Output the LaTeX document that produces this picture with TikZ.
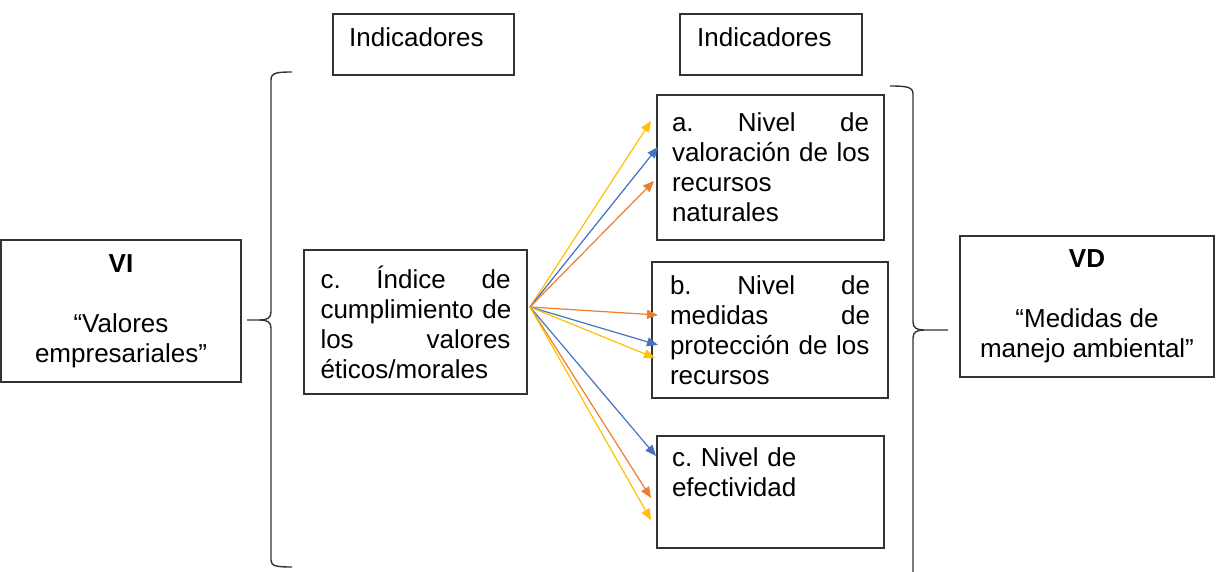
\documentclass[tikz,border=0pt]{standalone}
\usepackage{fontspec}
\setmainfont{Liberation Sans}
\usetikzlibrary{arrows.meta}
\definecolor{oyel}{HTML}{FFC000}
\definecolor{oblue}{HTML}{4472C4}
\definecolor{oorange}{HTML}{ED7D31}
\frenchspacing
\begin{document}
\begin{tikzpicture}[x=1pt,y=-1pt,
  box/.style={draw=black!80, line width=1.3pt, inner sep=0pt, font=\fontsize{26}{30}\selectfont},
  txt/.style={inner sep=0pt, font=\fontsize{26}{30}\selectfont},
  arr/.style={line width=1.2pt, -{Triangle[length=11pt,width=9pt]}},
  brace/.style={line width=1.4pt, draw=black!80}]
\useasboundingbox (0,0) rectangle (1216,572);
% Indicadores boxes
\node[box, minimum width=181, minimum height=61] (ib1) at (423.5,44.5) {};
\node[txt, anchor=west] (it1) at (349,37) {Indicadores};
\node[box, minimum width=182, minimum height=61] (ib2) at (771,44.5) {};
\node[txt, anchor=west] (it2) at (697,37) {Indicadores};
% VI
\node[box, minimum width=240, minimum height=142, align=center] (vi) at (121,311)
  {\textbf{VI}\\[30pt]“Valores\\empresariales”};
% indicator c
\node[box, minimum width=223, minimum height=144, text width=190, align=left] (ind) at (415.5,322)
  {c.\hfill Índice\hfill de\\\mbox{cumplimiento de}\\los\hfill valores\\éticos/morales};
% a
\node[box, minimum width=227, minimum height=145, text width=197, align=left] (a) at (770.5,167.5)
  {a.\hfill Nivel\hfill de\\\mbox{valoración de los}\\recursos\\naturales};
% b
\node[box, minimum width=236, minimum height=136, text width=200, align=left] (b) at (770,330)
  {b.\hfill Nivel\hfill de\\medidas\hfill de\\\mbox{protección de los}\\recursos};
% c2
\node[box, minimum width=227, minimum height=112, text width=197, align=left] (c) at (770.5,492)
  {c. Nivel de\\efectividad\\\strut};
% VD
\node[box, minimum width=254, minimum height=141, align=center] (vd) at (1087,306.5)
  {\textbf{VD}\\[30pt]“Medidas de\\manejo ambiental”};
% braces
\draw[brace] (292,72) .. controls (276,72) and (271,73) .. (271,80) -- (271,312)
  .. controls (271,318) and (267,320) .. (260,320) -- (247,320);
\draw[brace] (260,320) .. controls (267,320) and (271,322) .. (271,328) -- (271,560)
  .. controls (271,566) and (276,567) .. (292,567);
\draw[brace] (890,86) .. controls (907,86) and (913,87) .. (913,94) -- (913,322)
  .. controls (913,328) and (917,330) .. (924,330) -- (948,330);
\draw[brace] (924,330) .. controls (917,330) and (913,332) .. (913,338) -- (913,580);
% arrows
\coordinate (src) at (530,307);
\coordinate (e1) at (651,121);
\coordinate (e2) at (658,147);
\coordinate (e3) at (654,181);
\coordinate (e4) at (658,315);
\coordinate (e5) at (658,345);
\coordinate (e6) at (655,358);
\coordinate (e7) at (656,456);
\coordinate (e8) at (651,498);
\coordinate (e9) at (651,520);
\draw[arr, oyel] (src) -- (e1);
\draw[arr, oblue] (src) -- (e2);
\draw[arr, oorange] (src) -- (e3);
\draw[arr, oorange] (src) -- (e4);
\draw[arr, oblue] (src) -- (e5);
\draw[arr, oyel] (src) -- (e6);
\draw[arr, oblue] (src) -- (e7);
\draw[arr, oorange] (src) -- (e8);
\draw[arr, oyel] (src) -- (e9);
\end{tikzpicture}
\end{document}
